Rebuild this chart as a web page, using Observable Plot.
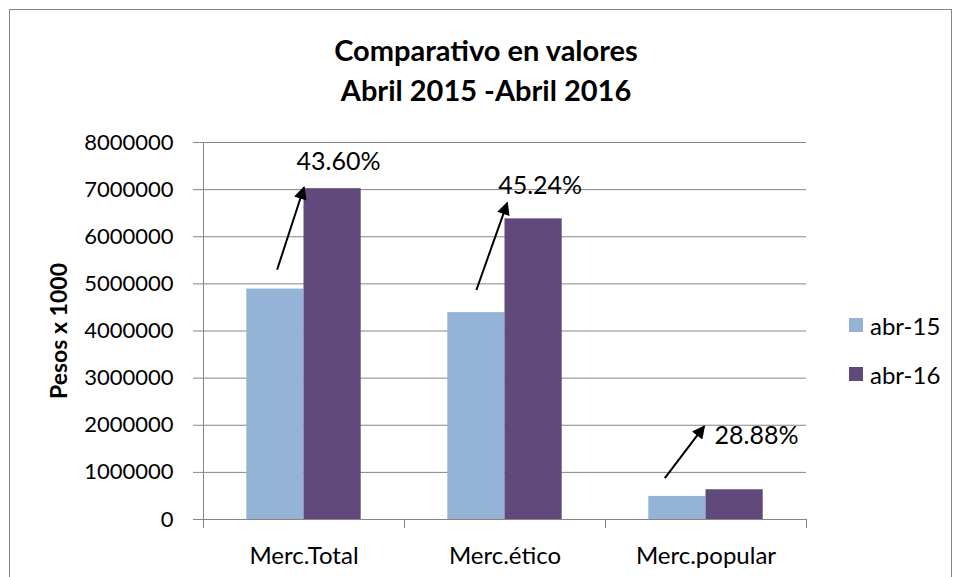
<!DOCTYPE html>
<html>
<head>
<meta charset="utf-8">
<script src="https://cdn.jsdelivr.net/npm/d3@7"></script>
<script src="https://cdn.jsdelivr.net/npm/@observablehq/plot@0.6"></script>
<style>
  html, body { margin: 0; padding: 0; background: #fff; }
  #wrap { position: relative; width: 956px; height: 577px; overflow: hidden; font-family: Lato, "Open Sans", sans-serif; }
  #border { position: absolute; left: 9px; top: 9px; width: 943px; height: 620px; border: 1px solid #868686; box-sizing: border-box; }
  #title { position: absolute; left: 8px; top: 30px; width: 956px; text-align: center; font-weight: bold; font-size: 29px; line-height: 40px; color: #000; }
  #ylab { position: absolute; left: 58px; top: 331px; transform: translate(-50%, -50%) rotate(-90deg); font-weight: bold; font-size: 23px; white-space: nowrap; }
  #legend { position: absolute; left: 849px; top: 311px; font-size: 24px; }
  #legend .row { display: flex; align-items: center; height: 28px; margin-bottom: 21px; }
  #legend .sw { width: 14px; height: 14px; margin-right: 7px; }
  #chart { position: absolute; left: 0; top: 0; }
</style>
</head>
<body>
<div id="wrap">
  <div id="border"></div>
  <div id="chart"></div>
  <div id="title"></div>
  <div id="ylab"></div>
  <div id="legend"></div>
</div>
<script>
const titleLines = ["Comparativo en valores", "Abril 2015 -Abril 2016"];
const yTitle = "Pesos x 1000";
const categories = ["Merc.Total", "Merc.ético", "Merc.popular"];
const seriesNames = ["abr-15", "abr-16"];
const seriesColors = ["#95B3D7", "#604A7B"];
const abr15 = [4890000, 4390000, 490000];
const abr16 = [7020000, 6380000, 631000];
const yTicks = [0, 1000000, 2000000, 3000000, 4000000, 5000000, 6000000, 7000000, 8000000];
const pctLabels = ["43.60%", "45.24%", "28.88%"];
// annotation anchors, in data units (slot position inside each group, value)
const arrowX1 = [0.53, 0.50, 0.28];
const arrowY1 = [5300000, 4870000, 880000];
const arrowX2 = [1.00, 1.04, 0.97];
const arrowY2 = [7050000, 6720000, 1980000];
const labelX = [0.87, 0.88, 1.15];
const labelY = [7580000, 7080000, 1780000];

const slotPad = 0.757;
const xDomain = [-slotPad, seriesNames.length + slotPad];

const bars = [];
categories.forEach((c, i) => {
  [abr15, abr16].forEach((vals, s) => {
    bars.push({category: c, series: seriesNames[s], s0: s, s1: s + 1, value: vals[i]});
  });
});
const notes = categories.map((c, i) => ({
  category: c, x1: arrowX1[i], y1: arrowY1[i], x2: arrowX2[i], y2: arrowY2[i],
  lx: labelX[i], ly: labelY[i], text: pctLabels[i]
}));

const grid = "#868686";

const chart = Plot.plot({
  width: 956,
  height: 577,
  marginLeft: 202,
  marginRight: 149,
  marginTop: 142,
  marginBottom: 58,
  style: {fontFamily: "Lato, 'Open Sans', sans-serif", fontSize: "20px", background: "transparent", color: "#000", overflow: "visible"},
  fx: {domain: categories, padding: 0, axis: null},
  x: {domain: xDomain, axis: null},
  y: {domain: [0, 8000000], axis: null},
  color: {domain: seriesNames, range: seriesColors},
  marks: [
    Plot.gridY(yTicks, {stroke: grid, strokeOpacity: 1, strokeWidth: 1}),
    Plot.rectY(bars, {fx: "category", x1: "s0", x2: "s1", y: "value", fill: "series"}),
    Plot.ruleY([0], {stroke: grid, strokeWidth: 1}),
    Plot.ruleX([xDomain[0]], {stroke: grid, strokeWidth: 1, facetAnchor: "left"}),
    Plot.axisY({ticks: yTicks, tickFormat: d => String(d), tickSize: 10, tickPadding: 20, stroke: grid, fill: "#000", fontSize: 22, anchor: "left"}),
    Plot.axisX({ticks: xDomain, tickSize: 9, tickFormat: () => "", stroke: grid, anchor: "bottom"}),
    Plot.axisFx({tickSize: 0, tickPadding: 27, fontSize: 24, fill: "#000", anchor: "bottom", label: null}),
    Plot.link(notes, {fx: "category", x1: "x1", y1: "y1", x2: "x2", y2: "y2", stroke: "#000", strokeWidth: 2, markerEnd: "arrow"}),
    Plot.text(notes, {fx: "category", x: "lx", y: "ly", text: "text", textAnchor: "start", fontSize: 25, fill: "#000"})
  ]
});

// filled arrow heads
const svg = d3.select(chart);
const defs = svg.insert("defs", ":first-child");
defs.append("marker")
  .attr("id", "fillArrow")
  .attr("viewBox", "0 0 10 10")
  .attr("refX", 9)
  .attr("refY", 5)
  .attr("markerUnits", "userSpaceOnUse")
  .attr("markerWidth", 16)
  .attr("markerHeight", 13)
  .attr("orient", "auto")
  .append("path")
  .attr("d", "M0,0L10,5L0,10Z")
  .attr("fill", "#000");
svg.selectAll("g[aria-label='link'] path").attr("marker-end", "url(#fillArrow)");

document.getElementById("chart").appendChild(chart);
document.getElementById("title").innerHTML = titleLines.join("<br>");
document.getElementById("ylab").textContent = yTitle;
const legend = d3.select("#legend");
seriesNames.forEach((s, i) => {
  const row = legend.append("div").attr("class", "row");
  row.append("div").attr("class", "sw").style("background", seriesColors[i]);
  row.append("span").text(s);
});
</script>
</body>
</html>
